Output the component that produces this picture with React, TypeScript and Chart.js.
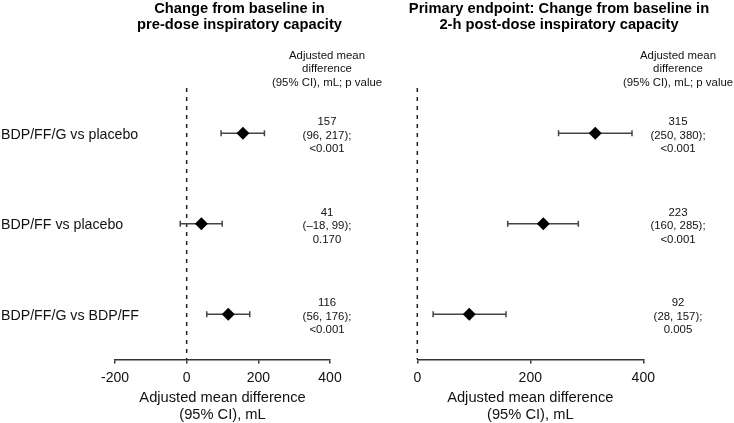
import React, { useEffect, useRef } from 'react';
import { Chart, registerables } from 'chart.js';

Chart.register(...registerables);

const FONT = '"Liberation Sans", Arial, Helvetica, sans-serif';

const categories = ['BDP/FF/G vs placebo', 'BDP/FF vs placebo', 'BDP/FF/G vs BDP/FF'];

const preMean = [157, 41, 116];
const preLow = [96, -18, 56];
const preHigh = [217, 99, 176];
const preP = ['<0.001', '0.170', '<0.001'];
const preTicks = [-200, 0, 200, 400];
const preTitle = ['Change from baseline in', 'pre-dose inspiratory capacity'];

const postMean = [315, 223, 92];
const postLow = [250, 160, 28];
const postHigh = [380, 285, 157];
const postP = ['<0.001', '<0.001', '0.005'];
const postTicks = [0, 200, 400];
const postTitle = ['Primary endpoint: Change from baseline in', '2-h post-dose inspiratory capacity'];

const axisTitle = ['Adjusted mean difference', '(95% CI), mL'];
const columnHeader = ['Adjusted mean', 'difference', '(95% CI), mL; p value'];

const fmt = (v: number) => (v < 0 ? '\u2013' + Math.abs(v) : String(v));

const zeroLinePlugin = {
  id: 'zeroLine',
  beforeDatasetsDraw(chart: any) {
    const { ctx, chartArea } = chart;
    const x = chart.scales.x.getPixelForValue(0);
    ctx.save();
    ctx.strokeStyle = '#222';
    ctx.lineWidth = 1.5;
    ctx.setLineDash([4, 5]);
    ctx.beginPath();
    ctx.moveTo(x, chartArea.top);
    ctx.lineTo(x, chartArea.bottom);
    ctx.stroke();
    ctx.restore();
  },
};

const panelTextPlugin = {
  id: 'panelText',
  afterDraw(chart: any, _args: any, o: any) {
    const { ctx } = chart;
    const y = chart.scales.y;
    ctx.save();
    ctx.fillStyle = '#000';
    ctx.textAlign = 'center';
    ctx.textBaseline = 'alphabetic';
    ctx.font = `bold 14.7px ${FONT}`;
    o.title.forEach((t: string, i: number) => ctx.fillText(t, o.titleX, 12.5 + i * 16.5));
    ctx.fillStyle = '#111';
    ctx.font = `11.4px ${FONT}`;
    columnHeader.forEach((t, i) => ctx.fillText(t, o.colX, 58.5 + i * 13.5));
    categories.forEach((c, i) => {
      const py = y.getPixelForValue(i);
      const lines = [String(o.mean[i]), `(${fmt(o.low[i])}, ${fmt(o.high[i])});`, o.p[i]];
      ctx.textAlign = 'center';
      ctx.font = `11.4px ${FONT}`;
      lines.forEach((t, j) => ctx.fillText(t, o.colX, py - 8 + j * 13.5));
      if (o.rowLabels) {
        ctx.textAlign = 'left';
        ctx.font = `14.2px ${FONT}`;
        ctx.fillText(c, 1, py + 5.5);
      }
    });
    ctx.restore();
  },
};

function makeChart(
  canvas: HTMLCanvasElement,
  mean: number[],
  low: number[],
  high: number[],
  p: string[],
  ticks: number[],
  title: string[],
  left: number,
  right: number,
  titleX: number,
  colX: number,
  rowLabels: boolean
) {
  const datasets: any[] = [
    {
      data: categories.map((c, i) => ({ x: mean[i], y: c })),
      pointStyle: 'rectRot',
      pointRadius: 6.5,
      pointBackgroundColor: '#000',
      pointBorderColor: '#000',
      pointBorderWidth: 0,
      showLine: false,
    },
  ];
  categories.forEach((c, i) => {
    datasets.push({
      data: [
        { x: low[i], y: c },
        { x: high[i], y: c },
      ],
      showLine: true,
      borderColor: '#444',
      borderWidth: 1.5,
      pointStyle: 'line',
      rotation: 90,
      pointRadius: 3,
      pointBorderWidth: 1.5,
      pointBorderColor: '#444',
    });
  });

  return new Chart(canvas, {
    type: 'scatter',
    data: { datasets },
    plugins: [zeroLinePlugin, panelTextPlugin],
    options: {
      animation: false,
      responsive: false,
      devicePixelRatio: 1,
      events: [],
      layout: { padding: { left, right, top: 88, bottom: 0 } },
      plugins: {
        legend: { display: false },
        tooltip: { enabled: false },
        panelText: { title, titleX, colX, mean, low, high, p, rowLabels },
      } as any,
      scales: {
        x: {
          type: 'linear',
          min: ticks[0],
          max: ticks[ticks.length - 1],
          afterBuildTicks: (s: any) => {
            s.ticks = ticks.map((v) => ({ value: v }));
          },
          border: { display: true, color: '#333', width: 1.5 },
          grid: {
            display: true,
            drawOnChartArea: false,
            drawTicks: true,
            tickLength: 4,
            color: '#333',
            lineWidth: 1.5,
          },
          ticks: {
            color: '#111',
            padding: 6,
            font: { family: FONT, size: 14 },
            maxRotation: 0,
            callback: (v: any) => String(v),
          },
          title: {
            display: true,
            text: axisTitle,
            color: '#111',
            font: { family: FONT, size: 14.7, lineHeight: 1.156 },
            padding: { top: -2.8, bottom: -0.5 },
          },
        },
        y: {
          type: 'category',
          labels: categories,
          offset: true,
          display: false,
        },
      },
    } as any,
  });
}

export default function App() {
  const leftRef = useRef<HTMLCanvasElement>(null);
  const rightRef = useRef<HTMLCanvasElement>(null);

  useEffect(() => {
    const a = makeChart(leftRef.current!, preMean, preLow, preHigh, preP, preTicks, preTitle, 115, 734 - 330, 239.5, 327, true);
    const b = makeChart(rightRef.current!, postMean, postLow, postHigh, postP, postTicks, postTitle, 417.3, 734 - 643.3, 559, 678, false);
    return () => {
      a.destroy();
      b.destroy();
    };
  }, []);

  return (
    <div style={{ position: 'fixed', left: 0, top: 0, width: 734, height: 423, background: '#fff' }}>
      <canvas ref={leftRef} width={734} height={423} style={{ position: 'absolute', left: 0, top: 0 }} />
      <canvas ref={rightRef} width={734} height={423} style={{ position: 'absolute', left: 0, top: 0 }} />
    </div>
  );
}
